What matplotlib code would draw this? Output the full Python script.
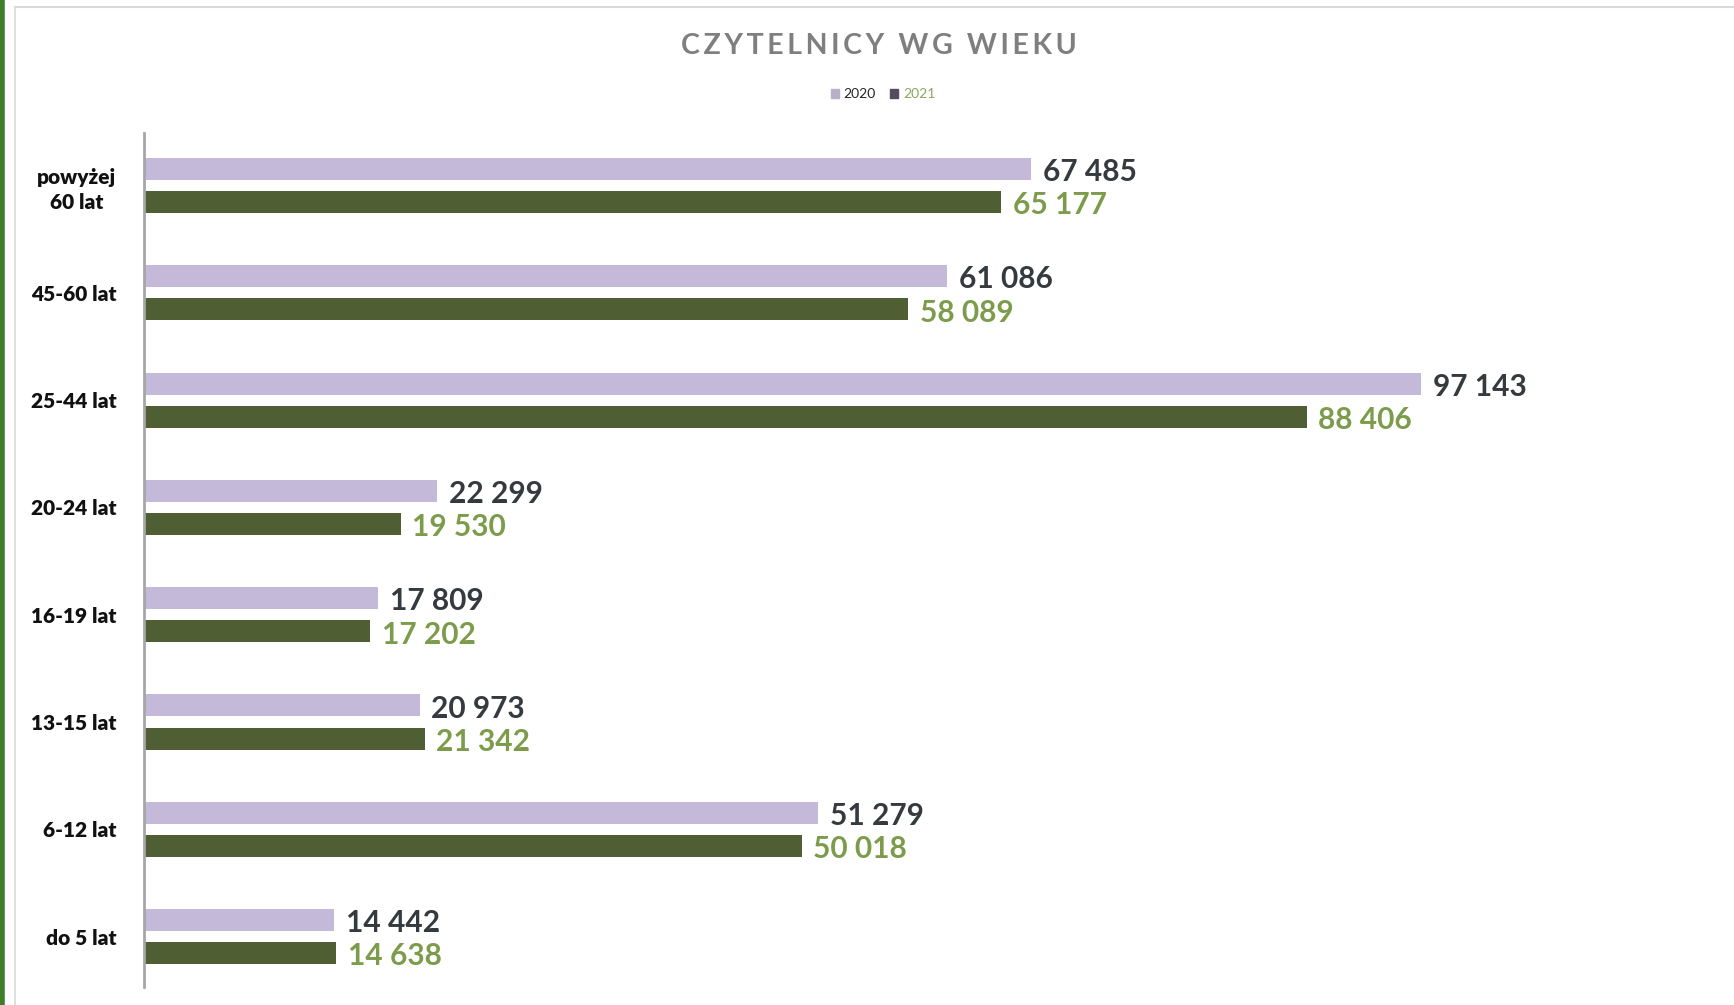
import matplotlib.pyplot as plt
from matplotlib.patches import Patch
from matplotlib.lines import Line2D
import numpy as np

# dane z wykresu
categories = ["powyżej\n60 lat", "45-60 lat", "25-44 lat", "20-24 lat",
              "16-19 lat", "13-15 lat", "6-12 lat", "do 5 lat"]
readers_2020 = [67485, 61086, 97143, 22299, 17809, 20973, 51279, 14442]
readers_2021 = [65177, 58089, 88406, 19530, 17202, 21342, 50018, 14638]

c2020 = "#c5b9d9"
c2021 = "#4f5f33"
txt2020 = "#353a3e"
txt2021 = "#7c9c4c"

def fmt(v):
    return f"{v:,}".replace(",", " ")

fig = plt.figure(figsize=(17.34, 10.05), dpi=100)
W, H = 1734, 1005

# ramka tla jak na zrzucie
fig.add_artist(Line2D([2 / W, 2 / W], [0, 1], color="#3f7d2b", lw=4, transform=fig.transFigure))
fig.add_artist(Line2D([15 / W, 15 / W], [0, 1 - 7 / H], color="#d9d9d9", lw=1.2, transform=fig.transFigure))
fig.add_artist(Line2D([15 / W, 1], [1 - 7 / H, 1 - 7 / H], color="#d9d9d9", lw=1.5, transform=fig.transFigure))

ax = fig.add_axes([144 / W, 18 / H, (1700 - 144) / W, (987 - 133) / H])
y = np.arange(len(categories))
h = 0.205
off = 0.155
ax.barh(y - off, readers_2020, height=h, color=c2020)
ax.barh(y + off, readers_2021, height=h, color=c2021)

ax.set_ylim(7.47, -0.49)
xmax = (1700 - 144) / 13.15 * 1000
ax.set_xlim(0, xmax)

pad = xmax * 0.0075
dy = 0.03
for i in range(len(categories)):
    ax.text(readers_2020[i] + pad, y[i] - off + dy, fmt(readers_2020[i]), va="center", ha="left",
            fontsize=21.5, fontweight="bold", color=txt2020, family="Lato")
    ax.text(readers_2021[i] + pad, y[i] + off + dy, fmt(readers_2021[i]), va="center", ha="left",
            fontsize=21.5, fontweight="bold", color=txt2021, family="Lato")

ax.set_yticks(y)
ax.set_yticklabels(categories, fontsize=15, fontweight="heavy", family="Lato",
                   color="#111111", multialignment="center", linespacing=1.35)
ax.tick_params(axis="y", length=0, pad=20)
ax.set_xticks([])
for s in ["top", "right", "bottom"]:
    ax.spines[s].set_visible(False)
ax.spines["left"].set_color("#a6a6a6")
ax.spines["left"].set_linewidth(2)

title = "CZYTELNICY WG WIEKU"
spaced = "\u2009".join(title).replace("\u2009 \u2009", "\u2009\u2009 ")
fig.text(879 / W, 1 - 46 / H, spaced,
         ha="center", va="center", fontsize=20.5, fontweight="bold", color="#7f7f7f",
         family=["Lato", "DejaVu Sans"])

handles = [Patch(color="#b8afc9"), Patch(color="#564c60")]
leg = ax.legend(handles, ["2020", "2021"], loc="center", bbox_to_anchor=(883 / W, 1 - 94 / H),
                bbox_transform=fig.transFigure, ncol=2, frameon=False,
                prop={"family": "Lato", "size": 10}, handlelength=0.6, handleheight=0.6,
                columnspacing=1.0, handletextpad=0.35)
leg.get_texts()[0].set_color("#262626")
leg.get_texts()[1].set_color("#8aa85c")

fig.savefig("out.png", dpi=100, facecolor="white")
